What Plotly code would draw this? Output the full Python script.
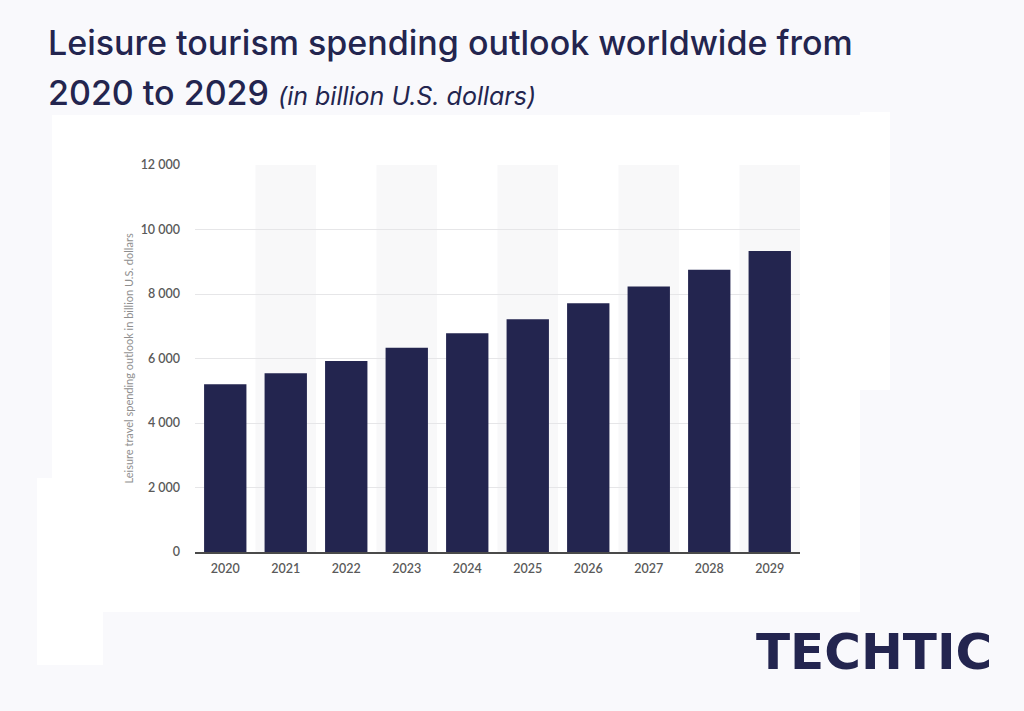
import plotly.graph_objects as go

years = ["2020", "2021", "2022", "2023", "2024", "2025", "2026", "2027", "2028", "2029"]
spending = [5200, 5540, 5920, 6330, 6780, 7220, 7710, 8230, 8750, 9330]
y_ticks = [0, 2000, 4000, 6000, 8000, 10000, 12000]

NAVY = "#23254f"
W, H = 1024, 711
L, R, T, B = 195, 224, 165, 159

fig = go.Figure()
fig.add_trace(go.Bar(
    x=years, y=spending, marker=dict(color=NAVY, line=dict(width=0)),
    hoverinfo="x+y",
))

shapes = []
def px_rect(x0, y0, x1, y1, color):
    return dict(type="rect", xref="paper", yref="paper",
                x0=(x0 - L) / (W - L - R), x1=(x1 - L) / (W - L - R),
                y0=(H - B - y1) / (H - T - B), y1=(H - B - y0) / (H - T - B),
                fillcolor=color, line=dict(width=0), layer="below")

shapes.append(px_rect(52, 115, 860, 612, "#ffffff"))
shapes.append(px_rect(860, 112, 890, 390, "#ffffff"))
shapes.append(px_rect(37, 478, 103, 665, "#ffffff"))

for i, yr in enumerate(years):
    if i % 2 == 1:
        shapes.append(dict(type="rect", xref="x", yref="y",
                           x0=i - 0.5, x1=i + 0.5, y0=0, y1=12000,
                           fillcolor="#f8f8f9", line=dict(width=0), layer="below"))

annotations = [
    dict(text="Leisure tourism spending outlook worldwide from",
         xref="paper", yref="paper",
         x=(46 - L) / (W - L - R), y=(H - B - 42) / (H - T - B),
         xanchor="left", yanchor="middle", showarrow=False,
         font=dict(family="Inter", size=34, color=NAVY, weight=500)),
    dict(text="2020 to 2029 <i><span style='font-size:25px;font-weight:400'>(in billion U.S. dollars)</span></i>",
         xref="paper", yref="paper",
         x=(46 - L) / (W - L - R), y=(H - B - 92) / (H - T - B),
         xanchor="left", yanchor="middle", showarrow=False,
         font=dict(family="Inter", size=34, color=NAVY, weight=500)),
    dict(text="Leisure travel spending outlook in billion U.S. dollars",
         xref="paper", yref="paper",
         x=(128 - L) / (W - L - R), y=0.5,
         xanchor="center", yanchor="middle", textangle=-90, showarrow=False,
         font=dict(family="Lato", size=11, color="#8f8f8f")),
    dict(text="TECHTIC",
         xref="paper", yref="paper",
         x=(994 - L) / (W - L - R), y=(H - B - 652) / (H - T - B),
         xanchor="right", yanchor="middle", showarrow=False,
         font=dict(family="DejaVu Sans", size=50, color=NAVY, weight=700)),
]

fig.update_layout(
    width=W, height=H,
    margin=dict(l=L, r=R, t=T, b=B),
    paper_bgcolor="#f9f9fc",
    plot_bgcolor="rgba(0,0,0,0)",
    separators=". ",
    bargap=0.3,
    showlegend=False,
    shapes=shapes,
    annotations=annotations,
    xaxis=dict(
        type="category", showgrid=False, zeroline=False,
        showline=True, linecolor="#4a4a4a", linewidth=2,
        ticks="", ticklabelstandoff=4,
        tickfont=dict(family="Lato", size=12.5, color="#5a5a5a", weight=600),
    ),
    yaxis=dict(
        range=[0, 12000], tickvals=y_ticks, tickformat=",d",
        showgrid=True, gridcolor="#e6e6e8", gridwidth=1,
        zeroline=False, showline=False,
        ticks="", ticklabelstandoff=14,
        tickfont=dict(family="Lato", size=12.5, color="#5a5a5a", weight=600),
    ),
)

fig.write_html("out.html")
